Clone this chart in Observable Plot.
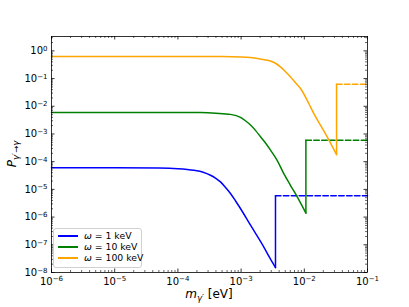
<!DOCTYPE html>
<html><head><meta charset="utf-8">
<script src="https://cdn.jsdelivr.net/npm/d3@7"></script>
<script src="https://cdn.jsdelivr.net/npm/@observablehq/plot@0.6"></script>
<style>
body{margin:0;background:#fff;font-family:"DejaVu Sans",sans-serif}
#c{position:relative;width:409px;height:307px}
#leg{position:absolute;left:53px;top:228px;width:87px;height:38px;border:1px solid #d0d0d0;border-radius:3px;background:rgba(255,255,255,0.8);font-size:9.3px;color:#000}
.row{position:absolute;left:4px;height:11px;display:flex;align-items:center;white-space:nowrap}
.sw{width:20px;height:2px;margin-right:6px}
</style>
</head><body><div id="c"><div id="leg"></div></div>
<script>
// tick values
const xTicks = [1e-6, 1e-5, 1e-4, 1e-3, 1e-2, 1e-1];
const yTicks = [1e0, 1e-1, 1e-2, 1e-3, 1e-4, 1e-5, 1e-6, 1e-7, 1e-8];
const xMinor = [-6, -5, -4, -3, -2].flatMap(k => [2,3,4,5,6,7,8,9].map(j => j * 10 ** k));
const yMinor = [-8,-7,-6,-5,-4,-3,-2,-1,0].flatMap(k => [2,3,4,5,6,7,8,9].map(j => j * 10 ** k)).filter(v => v < 3.3);

// series
const seriesNames = ["ω = 1 keV", "ω = 10 keV", "ω = 100 keV"];
const seriesColors = ["#0000ff", "#008000", "#ffa500"];

const mBlue = [1e-6, 1e-5, 5e-5, 1e-4, 1.79e-4, 2.51e-4, 3.28e-4, 3.98e-4, 4.72e-4, 5.62e-4, 6.79e-4, 8.13e-4, 9.77e-4, 1.41e-3, 2.29e-3, 2.82e-3, 3.5e-3];
const pBlue = [6.0e-5, 6.0e-5, 5.9e-5, 5.6e-5, 4.9e-5, 4.17e-5, 3.24e-5, 2.51e-5, 1.86e-5, 1.2e-5, 7.1e-6, 3.9e-6, 2.04e-6, 5.1e-7, 8.3e-8, 3.5e-8, 1.5e-8];
const mGreen = [1e-6, 1e-4, 2.28e-4, 3.98e-4, 6.79e-4, 9.77e-4, 1.17e-3, 1.41e-3, 1.7e-3, 2.03e-3, 2.45e-3, 2.92e-3, 3.72e-3, 4.74e-3, 6.03e-3, 7.73e-3, 1.06e-2];
const pGreen = [6.0e-3, 6.0e-3, 5.9e-3, 5.6e-3, 5.1e-3, 4.0e-3, 3.0e-3, 2.1e-3, 1.32e-3, 7.9e-4, 4.6e-4, 2.6e-4, 1.12e-4, 3.7e-5, 1.41e-5, 5.4e-6, 1.4e-6];
const mOrange = [1e-6, 1e-4, 5e-4, 1e-3, 1.41e-3, 2.0e-3, 2.92e-3, 3.55e-3, 4.2e-3, 5.01e-3, 6.05e-3, 7.24e-3, 8.71e-3, 1.18e-2, 1.41e-2, 1.8e-2, 2.3e-2, 3.24e-2];
const pOrange = [0.63, 0.63, 0.625, 0.605, 0.575, 0.51, 0.43, 0.35, 0.263, 0.18, 0.115, 0.071, 0.044, 0.0126, 5.5e-3, 2.1e-3, 7.9e-4, 1.8e-4];
// level after the jump (dashed part), per series
const pJump = [5.9e-6, 5.9e-4, 6.3e-2];
const mEnd = 1e-1;

const mAll = [mBlue, mGreen, mOrange];
const pAll = [pBlue, pGreen, pOrange];

const curve = [], jump = [], dashed = [];
mAll.forEach((ms, s) => {
  const last = ms.length - 1;
  ms.forEach((m, i) => curve.push({s, m, p: pAll[s][i]}));
  jump.push({s, m: ms[last], p: pAll[s][last]});
  jump.push({s, m: ms[last], p: pJump[s]});
  dashed.push({s, m: ms[last], p: pJump[s]});
  dashed.push({s, m: mEnd, p: pJump[s]});
});

const W = 409, H = 307, mt = 36, mb = 35, ml = 51, mr = 42;
const iw = W - ml - mr, ih = H - mt - mb;
const fmt = v => "10^" + Math.round(Math.log10(v));
const col = d => seriesColors[d.s];

const chart = Plot.plot({
  width: W, height: H,
  marginTop: mt, marginBottom: mb, marginLeft: ml, marginRight: mr,
  style: {fontFamily: "DejaVu Sans, sans-serif", background: "#fff"},
  x: {type: "log", domain: [1e-6, 1e-1], axis: null},
  y: {type: "log", domain: [1e-8, 3.3], axis: null},
  marks: [
    Plot.line(dashed, {x: "m", y: "p", z: "s", stroke: col, strokeWidth: 1.5, strokeDasharray: "5.5,2.4"}),
    Plot.line(curve, {x: "m", y: "p", z: "s", stroke: col, strokeWidth: 1.5, curve: "monotone-x"}),
    Plot.line(jump, {x: "m", y: "p", z: "s", stroke: col, strokeWidth: 1.5}),
    Plot.frame({stroke: "#000", strokeWidth: 0.8}),
    Plot.tickX(xTicks, {x: d => d, insetTop: ih - 3.5, stroke: "#000", strokeWidth: 0.8}),
    Plot.tickX(xTicks, {x: d => d, insetBottom: ih - 3.5, stroke: "#000", strokeWidth: 0.8}),
    Plot.tickX(xMinor, {x: d => d, insetTop: ih - 2, stroke: "#000", strokeWidth: 0.6}),
    Plot.tickX(xMinor, {x: d => d, insetBottom: ih - 2, stroke: "#000", strokeWidth: 0.6}),
    Plot.tickY(yTicks, {y: d => d, insetRight: iw - 3.5, stroke: "#000", strokeWidth: 0.8}),
    Plot.tickY(yTicks, {y: d => d, insetLeft: iw - 3.5, stroke: "#000", strokeWidth: 0.8}),
    Plot.tickY(yMinor, {y: d => d, insetRight: iw - 2, stroke: "#000", strokeWidth: 0.6}),
    Plot.tickY(yMinor, {y: d => d, insetLeft: iw - 2, stroke: "#000", strokeWidth: 0.6}),
    Plot.axisX(xTicks, {tickSize: 0, tickPadding: 5, tickFormat: fmt, fontSize: 10, label: null, fill: "#000"}),
    Plot.axisY(yTicks, {tickSize: 0, tickPadding: 4, tickFormat: fmt, fontSize: 10, label: null, fill: "#000"})
  ]
});
document.getElementById("c").prepend(chart);

const svg = d3.select(chart);
// turn "10^k" tick labels into 10 with a superscript
svg.selectAll("text").each(function() {
  const t = this.textContent;
  if (!t.startsWith("10^")) return;
  const e = t.slice(3).replace("-", "\u2212");
  const sel = d3.select(this);
  sel.text("");
  sel.append("tspan").text("10");
  sel.append("tspan").attr("font-size", 7).attr("dy", "-0.45em").text(e);
});

// axis labels with sub-scripts
const yl = svg.append("text").attr("transform", `translate(16,${mt + ih / 2}) rotate(-90)`)
  .attr("text-anchor", "middle").attr("font-size", 12).attr("fill", "#000");
yl.append("tspan").attr("font-style", "italic").text("P");
yl.append("tspan").attr("font-size", 8.5).attr("dy", 3).attr("font-style", "italic").text("γ′→γ");
const xl = svg.append("text").attr("x", ml + iw / 2).attr("y", 298)
  .attr("text-anchor", "middle").attr("font-size", 12).attr("fill", "#000");
xl.append("tspan").attr("font-style", "italic").text("m");
xl.append("tspan").attr("font-size", 8.5).attr("dy", 3).attr("font-style", "italic").text("γ′");
xl.append("tspan").attr("dy", -3).text(" [eV]");

// legend
const leg = document.getElementById("leg");
seriesNames.forEach((n, i) => {
  const r = document.createElement("div");
  r.className = "row";
  r.style.top = (1 + i * 11) + "px";
  const sw = document.createElement("div");
  sw.className = "sw";
  sw.style.background = seriesColors[i];
  const t = document.createElement("span");
  t.innerHTML = "<i>ω</i>" + n.slice(1);
  r.appendChild(sw); r.appendChild(t);
  leg.appendChild(r);
});
</script>
</body></html>
